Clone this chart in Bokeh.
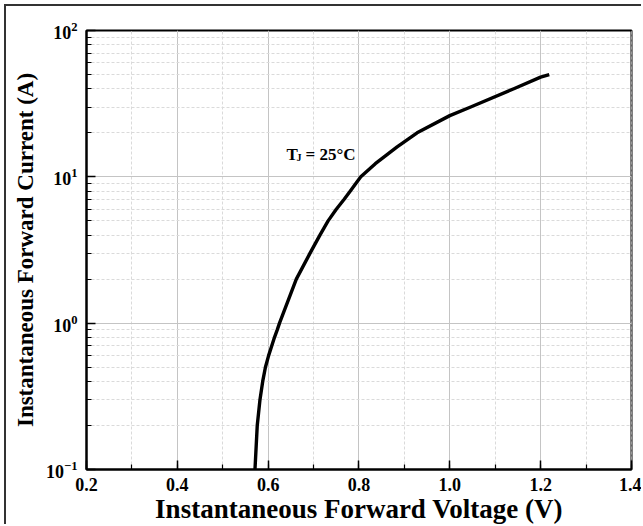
from bokeh.plotting import figure
from bokeh.models import (Label, SingleIntervalTicker, LogTicker, ColumnDataSource,
                          PrintfTickFormatter)
from bokeh.embed import file_html
from bokeh.resources import INLINE

# ---- data ----
voltage = [0.571, 0.576, 0.582, 0.588, 0.594, 0.601, 0.608, 0.614, 0.620, 0.625,
           0.662, 0.692, 0.714, 0.732, 0.750, 0.767, 0.781, 0.793, 0.804, 0.836,
           0.884, 0.928, 1.000, 1.046, 1.141, 1.200, 1.219]
current = [0.1, 0.2, 0.3, 0.4, 0.5, 0.6, 0.7, 0.8, 0.9, 1.0,
           2.0, 3.0, 4.0, 5.0, 6.0, 7.0, 8.0, 9.0, 10.0, 12.3,
           16.0, 20.0, 26.2, 30.0, 40.0, 48.0, 50.0]
x_range_v = (0.2, 1.4001)
y_range_a = (0.1, 100)

FONT = "Liberation Serif"

p = figure(width=637, height=520, x_range=x_range_v, y_range=y_range_a,
           y_axis_type="log", output_backend="svg", toolbar_location=None,
           min_border_left=80, min_border_right=12, min_border_top=24,
           min_border_bottom=57)
p.styles = {"border-top": "2px solid #333", "border-left": "2px solid #333",
            "margin-left": "4px", "margin-top": "4px"}

src = ColumnDataSource(dict(v=voltage, i=current))
p.line("v", "i", source=src, line_color="black", line_width=3.4,
       line_join="round")

# axes
p.xaxis.ticker = SingleIntervalTicker(interval=0.2, num_minor_ticks=2)
p.xaxis.formatter = PrintfTickFormatter(format="%.1f")
p.yaxis.ticker = LogTicker(num_minor_ticks=10)
for ax in (p.xaxis[0], p.yaxis[0]):
    ax.axis_line_color = "black"
    ax.axis_line_width = 2
    ax.major_tick_in = 9
    ax.major_tick_out = 0
    ax.minor_tick_in = 5
    ax.minor_tick_out = 0
    ax.major_tick_line_color = "black"
    ax.major_tick_line_width = 1.5
    ax.minor_tick_line_color = "black"
    ax.minor_tick_line_width = 1.2
    ax.major_label_text_font = FONT
    ax.major_label_text_font_style = "bold"
    ax.major_label_text_color = "black"
    ax.axis_label_text_font = FONT
    ax.axis_label_text_font_style = "bold"
    ax.axis_label_text_color = "black"

p.xaxis.major_label_text_font_size = "18px"
p.yaxis.major_label_text_font_size = "18px"
p.xaxis.axis_label_text_font_size = "27px"
p.yaxis.axis_label_text_font_size = "23px"
p.xaxis.axis_label = "Instantaneous Forward Voltage (V)"
p.yaxis.axis_label = "Instantaneous Forward Current (A)"
p.xaxis.major_label_standoff = 8
p.yaxis.major_label_standoff = 9
p.xaxis.axis_label_standoff = 0
p.yaxis.axis_label_standoff = 5

# grid
for g in (p.xgrid[0], p.ygrid[0]):
    g.grid_line_color = "#c4c4c4"
    g.grid_line_width = 1
    g.minor_grid_line_color = "#dadada"
    g.minor_grid_line_dash = "3 2"
    g.minor_grid_line_width = 1
p.xgrid.ticker = p.xaxis.ticker
p.ygrid.ticker = p.yaxis.ticker

p.outline_line_color = "black"
p.outline_line_width = 2
p.outline_line_alpha = 1
p.background_fill_color = "white"
p.border_fill_color = "white"

# annotation T_J = 25°C
lab_x, lab_y = 0.6403, 14.2
p.add_layout(Label(x=lab_x, y=lab_y, text="T", text_font=FONT,
                   text_font_style="bold", text_font_size="17px",
                   text_baseline="alphabetic", text_color="black"))
p.add_layout(Label(x=lab_x, y=lab_y, x_offset=10, y_offset=-3, text="J",
                   text_font=FONT, text_font_style="bold",
                   text_font_size="10px", text_baseline="alphabetic",
                   text_color="black"))
p.add_layout(Label(x=lab_x, y=lab_y, x_offset=19, text="= 25°C",
                   text_font=FONT, text_font_style="bold",
                   text_font_size="17px", text_baseline="alphabetic",
                   text_color="black"))

open("out.html", "w").write(file_html(p, INLINE))
